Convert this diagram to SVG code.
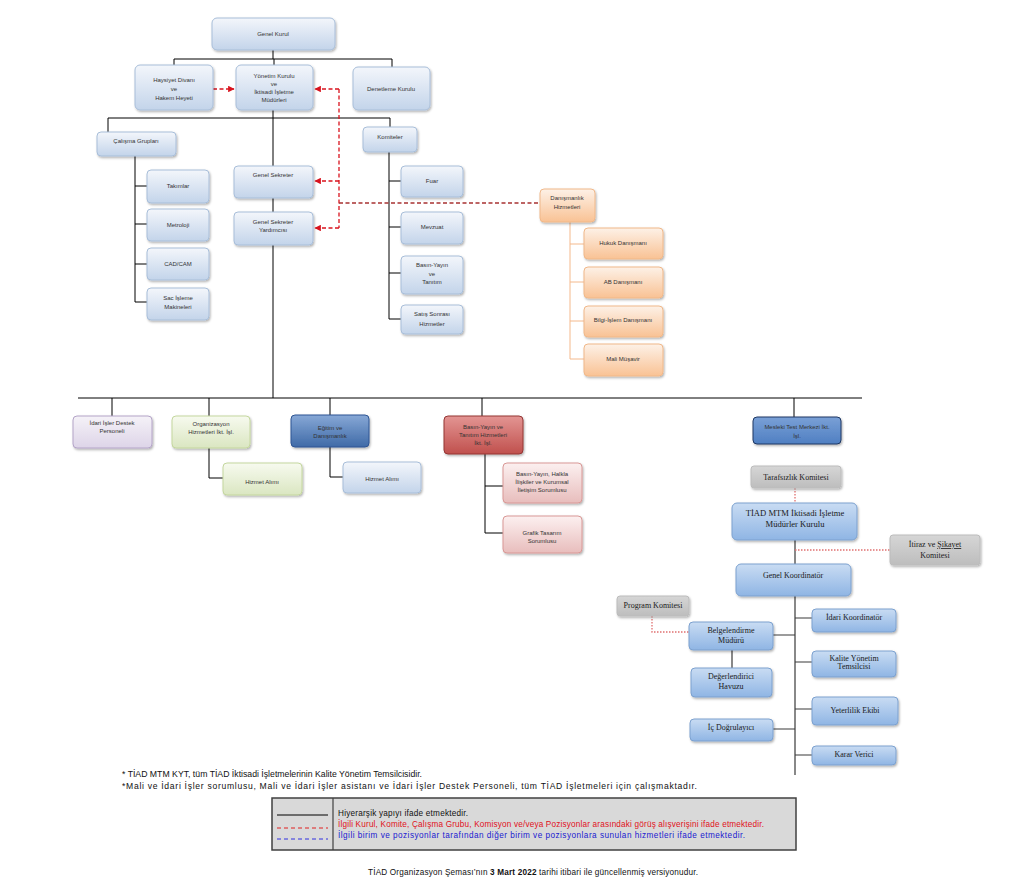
<svg xmlns="http://www.w3.org/2000/svg" width="1024" height="895" viewBox="0 0 1024 895">
<defs>
<linearGradient id="gB" x1="0" y1="0" x2="0" y2="1"><stop offset="0" stop-color="#f3f6fb"/><stop offset="1" stop-color="#c3d4ea"/></linearGradient>
<linearGradient id="gO" x1="0" y1="0" x2="0" y2="1"><stop offset="0" stop-color="#fdf1e7"/><stop offset="1" stop-color="#f9c294"/></linearGradient>
<linearGradient id="gG" x1="0" y1="0" x2="0" y2="1"><stop offset="0" stop-color="#f7faef"/><stop offset="1" stop-color="#dae6c1"/></linearGradient>
<linearGradient id="gP" x1="0" y1="0" x2="0" y2="1"><stop offset="0" stop-color="#f5f2f8"/><stop offset="1" stop-color="#ddd4e8"/></linearGradient>
<linearGradient id="gK" x1="0" y1="0" x2="0" y2="1"><stop offset="0" stop-color="#fcf0f0"/><stop offset="1" stop-color="#e8bdbc"/></linearGradient>
<linearGradient id="gD" x1="0" y1="0" x2="0" y2="1"><stop offset="0" stop-color="#87a8d6"/><stop offset="1" stop-color="#3f6aa7"/></linearGradient>
<linearGradient id="gR" x1="0" y1="0" x2="0" y2="1"><stop offset="0" stop-color="#e39593"/><stop offset="1" stop-color="#c0504d"/></linearGradient>
<linearGradient id="gM" x1="0" y1="0" x2="0" y2="1"><stop offset="0" stop-color="#7aa0d6"/><stop offset="1" stop-color="#4f7fc2"/></linearGradient>
<linearGradient id="gL" x1="0" y1="0" x2="0" y2="1"><stop offset="0" stop-color="#c9dcf3"/><stop offset="1" stop-color="#8fb5e4"/></linearGradient>
<linearGradient id="gY" x1="0" y1="0" x2="0" y2="1"><stop offset="0" stop-color="#d6d6d6"/><stop offset="1" stop-color="#bdbdbd"/></linearGradient>
<filter id="sh" x="-10%" y="-10%" width="125%" height="135%"><feDropShadow dx="1" dy="1.5" stdDeviation="1" flood-color="#000" flood-opacity="0.3"/></filter>
<marker id="ar" viewBox="0 0 10 10" refX="9" refY="5" markerWidth="5" markerHeight="5" orient="auto"><path d="M0,0 L10,5 L0,10 z" fill="#d9131e"/></marker>
</defs>
<style>
rect.n{stroke-width:1;filter:url(#sh)}
.b{fill:url(#gB);stroke:#a8bed9}
.o{fill:url(#gO);stroke:#f0b889}
.g{fill:url(#gG);stroke:#c4d79e}
.p{fill:url(#gP);stroke:#b4a4c8}
.k{fill:url(#gK);stroke:#d99896}
.d{fill:url(#gD);stroke:#2f5593}
.r{fill:url(#gR);stroke:#943634}
.m{fill:url(#gM);stroke:#1f3864;stroke-width:1.5}
.l{fill:url(#gL);stroke:#7ca1cf}
.y{fill:url(#gY);stroke:#bcbcbc}
text{font-family:"Liberation Sans",Arial,sans-serif;font-size:6px;fill:#333;text-anchor:middle}
text.s{font-family:"Liberation Serif","Times New Roman",serif;font-size:8px;fill:#1a1a1a}
text.s2{font-family:"Liberation Serif","Times New Roman",serif;font-size:8.6px;fill:#1a1a1a}
text.f{font-size:8.2px;fill:#111;text-anchor:start}
text.fn{font-size:8.6px;fill:#111;text-anchor:start}
.h{stroke:#000;stroke-width:1;fill:none}
.h2{stroke:#3a3a3a;stroke-width:1.2;fill:none}
.rd{stroke:#d9131e;stroke-width:1.3;stroke-dasharray:4,2.5;fill:none}
.rd2{stroke:#a83232;stroke-width:1.3;stroke-dasharray:4,2.5;fill:none}
.ol{stroke:#f4b98c;stroke-width:1;fill:none}
.dt{stroke:#e07070;stroke-width:1.3;stroke-dasharray:1.5,1.5;fill:none}
</style>
<rect width="1024" height="895" fill="#fff"/>

<g id="connectors">
<path class="h" d="M273,50V59M174,59H392M174,59V65M274,59V65M392,59V67"/>
<path class="h" d="M273,110V398M108,118H390M108,118V132M390,118V127"/>
<path class="h" d="M135,156V302M135,186H147M135,224H147M135,264H147M135,302H147"/>
<path class="h" d="M389,152V319M389,181H401M389,227H401M389,273H401M389,319H401"/>
<path class="ol" d="M570,222V359M570,244H584M570,282H584M570,321H584M570,359H584"/>
<path class="h" d="M78,398H862M112,398V416M209,398V416M330,398V415M482,398V416M794,398V417"/>
<path class="h" d="M209,448V478H223M330,447V477H343M485,454V533M485,486H503M485,533H503"/>
<path class="h2" d="M795,540V564M795,596V775M795,618H812M795,662H812M795,709H812M795,755H812M795,635H773M795,729H773M732,650V668"/>
<path class="rd" d="M213,89H234" marker-end="url(#ar)"/>
<path class="rd" d="M339,89V228"/>
<path class="rd" d="M339,89H315" marker-end="url(#ar)"/>
<path class="rd" d="M339,181H315" marker-end="url(#ar)"/>
<path class="rd" d="M339,228H315" marker-end="url(#ar)"/>
<path class="rd2" d="M339,203H540"/>
<path class="dt" d="M795,488V503M795,550H890M652,616V632H689"/>
</g>

<g id="genel-kurul"><rect class="n b" x="212" y="18" width="123" height="32" rx="5"/><text x="273" y="36">Genel Kurul</text></g>
<g id="haysiyet"><rect class="n b" x="135" y="65" width="78" height="45" rx="5"/><text x="174" y="82">Haysiyet Divanı</text><text x="174" y="91">ve</text><text x="174" y="100">Hakem Heyeti</text></g>
<g id="yonetim"><rect class="n b" x="236" y="65" width="77" height="45" rx="5"/><text x="274" y="78">Yönetim Kurulu</text><text x="274" y="86">ve</text><text x="274" y="94">İktisadi İşletme</text><text x="274" y="102">Müdürleri</text></g>
<g id="denetleme"><rect class="n b" x="353" y="67" width="77" height="43" rx="5"/><text x="391" y="91">Denetleme Kurulu</text></g>

<g id="calisma"><rect class="n b" x="97" y="132" width="79" height="24" rx="4"/><text x="136" y="143">Çalışma Grupları</text></g>
<g id="takimlar"><rect class="n b" x="147" y="170" width="62" height="33" rx="4"/><text x="178" y="188">Takımlar</text></g>
<g id="metroloji"><rect class="n b" x="147" y="209" width="62" height="32" rx="4"/><text x="178" y="227">Metroloji</text></g>
<g id="cadcam"><rect class="n b" x="147" y="248" width="62" height="32" rx="4"/><text x="178" y="266">CAD/CAM</text></g>
<g id="sac"><rect class="n b" x="147" y="288" width="62" height="32" rx="4"/><text x="178" y="300">Sac İşleme</text><text x="178" y="309">Makineleri</text></g>

<g id="genel-sekreter"><rect class="n b" x="234" y="166" width="79" height="32" rx="4"/><text x="273" y="177">Genel Sekreter</text></g>
<g id="gs-yardimcisi"><rect class="n b" x="234" y="212" width="79" height="33" rx="4"/><text x="273" y="224">Genel Sekreter</text><text x="273" y="232">Yardımcısı</text></g>

<g id="komiteler"><rect class="n b" x="363" y="127" width="54" height="25" rx="4"/><text x="390" y="139">Komiteler</text></g>
<g id="fuar"><rect class="n b" x="401" y="166" width="62" height="31" rx="4"/><text x="432" y="183">Fuar</text></g>
<g id="mevzuat"><rect class="n b" x="401" y="212" width="62" height="32" rx="4"/><text x="432" y="229">Mevzuat</text></g>
<g id="basin-k"><rect class="n b" x="401" y="256" width="62" height="38" rx="4"/><text x="432" y="267">Basın-Yayın</text><text x="432" y="276">ve</text><text x="432" y="284">Tanıtım</text></g>
<g id="satis"><rect class="n b" x="401" y="305" width="62" height="29" rx="4"/><text x="432" y="316">Satış Sonrası</text><text x="432" y="326">Hizmetler</text></g>

<g id="danismanlik"><rect class="n o" x="540" y="189" width="55" height="33" rx="4"/><text x="567" y="200">Danışmanlık</text><text x="567" y="209">Hizmetleri</text></g>
<g id="hukuk"><rect class="n o" x="584" y="228" width="79" height="31" rx="4"/><text x="623" y="245">Hukuk Danışmanı</text></g>
<g id="ab"><rect class="n o" x="584" y="267" width="79" height="31" rx="4"/><text x="623" y="284">AB Danışmanı</text></g>
<g id="bilgi"><rect class="n o" x="584" y="306" width="79" height="31" rx="4"/><text x="623" y="322">Bilgi-İşlem Danışmanı</text></g>
<g id="mali"><rect class="n o" x="584" y="344" width="79" height="32" rx="4"/><text x="623" y="361">Mali Müşavir</text></g>

<g id="idari-destek"><rect class="n p" x="73" y="416" width="79" height="32" rx="4"/><text x="112" y="425">İdari İşler Destek</text><text x="112" y="433">Personeli</text></g>
<g id="organizasyon"><rect class="n g" x="172" y="416" width="78" height="32" rx="4"/><text x="211" y="426">Organizasyon</text><text x="211" y="434">Hizmetleri İkt. İşl.</text></g>
<g id="org-hizmet"><rect class="n g" x="223" y="463" width="79" height="32" rx="4"/><text x="262" y="484">Hizmet Alımı</text></g>
<g id="egitim"><rect class="n d" x="291" y="415" width="78" height="32" rx="4"/><text x="330" y="430" fill="#13284d">Eğitim ve</text><text x="330" y="438" fill="#13284d">Danışmanlık</text></g>
<g id="egitim-hizmet"><rect class="n b" x="343" y="462" width="78" height="31" rx="4"/><text x="382" y="481">Hizmet Alımı</text></g>
<g id="basin-ik"><rect class="n r" x="444" y="416" width="79" height="38" rx="4"/><text x="483" y="429" fill="#3a0f0e">Basın-Yayın ve</text><text x="483" y="437" fill="#3a0f0e">Tanıtım Hizmetleri</text><text x="483" y="445" fill="#3a0f0e">İkt. İşl.</text></g>
<g id="basin-halkla"><rect class="n k" x="503" y="463" width="79" height="40" rx="4"/><text x="542" y="476">Basın-Yayın, Halkla</text><text x="542" y="484">İlişkiler ve Kurumsal</text><text x="542" y="492">İletişim Sorumlusu</text></g>
<g id="grafik"><rect class="n k" x="503" y="516" width="79" height="37" rx="4"/><text x="542" y="535">Grafik Tasarım</text><text x="542" y="543">Sorumlusu</text></g>
<g id="mesleki"><rect class="n m" x="753" y="417" width="88" height="27" rx="4"/><text x="797" y="429" fill="#13284d">Mesleki Test Merkezi İkt.</text><text x="797" y="438" fill="#13284d">İşl.</text></g>

<g id="tarafsizlik"><rect class="n y" x="751" y="466" width="90" height="22" rx="3"/><text class="s" x="796" y="480">Tarafsızlık Komitesi</text></g>
<g id="mtm-kurul"><rect class="n l" x="732" y="503" width="125" height="37" rx="5"/><text class="s2" x="795" y="516">TİAD MTM İktisadi İşletme</text><text class="s2" x="795" y="527">Müdürler Kurulu</text></g>
<g id="itiraz"><rect class="n y" x="890" y="535" width="90" height="30" rx="3"/><text class="s" x="935" y="547">İtiraz ve <tspan text-decoration="underline" style="text-decoration-color:#3333cc">Şikayet</tspan></text><text class="s" x="935" y="558">Komitesi</text></g>
<g id="genel-koord"><rect class="n l" x="736" y="564" width="115" height="32" rx="5"/><text class="s" x="793" y="578">Genel Koordinatör</text></g>
<g id="program"><rect class="n y" x="617" y="596" width="72" height="20" rx="3"/><text class="s" x="653" y="608">Program Komitesi</text></g>
<g id="belgelendirme"><rect class="n l" x="689" y="622" width="84" height="28" rx="4"/><text class="s" x="731" y="633">Belgelendirme</text><text class="s" x="731" y="643">Müdürü</text></g>
<g id="degerlendirici"><rect class="n l" x="691" y="668" width="81" height="29" rx="4"/><text class="s" x="731" y="679">Değerlendirici</text><text class="s" x="731" y="689">Havuzu</text></g>
<g id="ic-dogrulayici"><rect class="n l" x="690" y="719" width="83" height="22" rx="4"/><text class="s" x="731" y="730">İç Doğrulayıcı</text></g>
<g id="idari-koord"><rect class="n l" x="812" y="609" width="84" height="23" rx="4"/><text class="s" x="854" y="620">İdari Koordinatör</text></g>
<g id="kalite"><rect class="n l" x="812" y="651" width="84" height="26" rx="4"/><text class="s" x="854" y="661">Kalite Yönetim</text><text class="s" x="854" y="669">Temsilcisi</text></g>
<g id="yeterlilik"><rect class="n l" x="812" y="697" width="86" height="28" rx="4"/><text class="s" x="855" y="713">Yeterlilik Ekibi</text></g>
<g id="karar"><rect class="n l" x="812" y="746" width="84" height="19" rx="4"/><text class="s" x="854" y="757">Karar Verici</text></g>

<g id="notes">
<text class="fn" x="122" y="777" textLength="300" lengthAdjust="spacingAndGlyphs">* TİAD MTM KYT, tüm TİAD İktisadi İşletmelerinin Kalite Yönetim Temsilcisidir.</text>
<text class="fn" x="122" y="789" textLength="575" lengthAdjust="spacing">*Mali ve İdari İşler sorumlusu, Mali ve İdari İşler asistanı ve İdari İşler Destek Personeli, tüm TİAD İşletmeleri için çalışmaktadır.</text>
</g>
<g id="legend">
<rect x="272" y="798" width="524" height="52" fill="#d9d9d9" stroke="#404040" stroke-width="1.5"/>
<line x1="333" y1="798" x2="333" y2="850" stroke="#404040" stroke-width="1.2"/>
<line x1="277" y1="815" x2="328" y2="815" stroke="#000" stroke-width="1"/>
<line x1="277" y1="828" x2="328" y2="828" stroke="#e02020" stroke-width="1" stroke-dasharray="4,3"/>
<line x1="277" y1="839" x2="328" y2="839" stroke="#3030e0" stroke-width="1" stroke-dasharray="4,3"/>
<text class="f" x="338" y="816" textLength="130" lengthAdjust="spacing">Hiyerarşik yapıyı ifade etmektedir.</text>
<text class="f" x="338" y="827" textLength="426" lengthAdjust="spacing" style="fill:#e0101a">İlgili Kurul, Komite, Çalışma Grubu, Komisyon ve/veya Pozisyonlar arasındaki görüş alışverişini ifade etmektedir.</text>
<text class="f" x="338" y="838" textLength="407" lengthAdjust="spacing" style="fill:#1a1ad0">İlgili birim ve pozisyonlar tarafından diğer birim ve pozisyonlara sunulan hizmetleri ifade etmektedir.</text>
</g>
<text class="f" x="368" y="875" textLength="330" lengthAdjust="spacing">TİAD Organizasyon Şeması’nın <tspan font-weight="bold">3 Mart 2022</tspan> tarihi itibari ile güncellenmiş versiyonudur.</text>
</svg>
